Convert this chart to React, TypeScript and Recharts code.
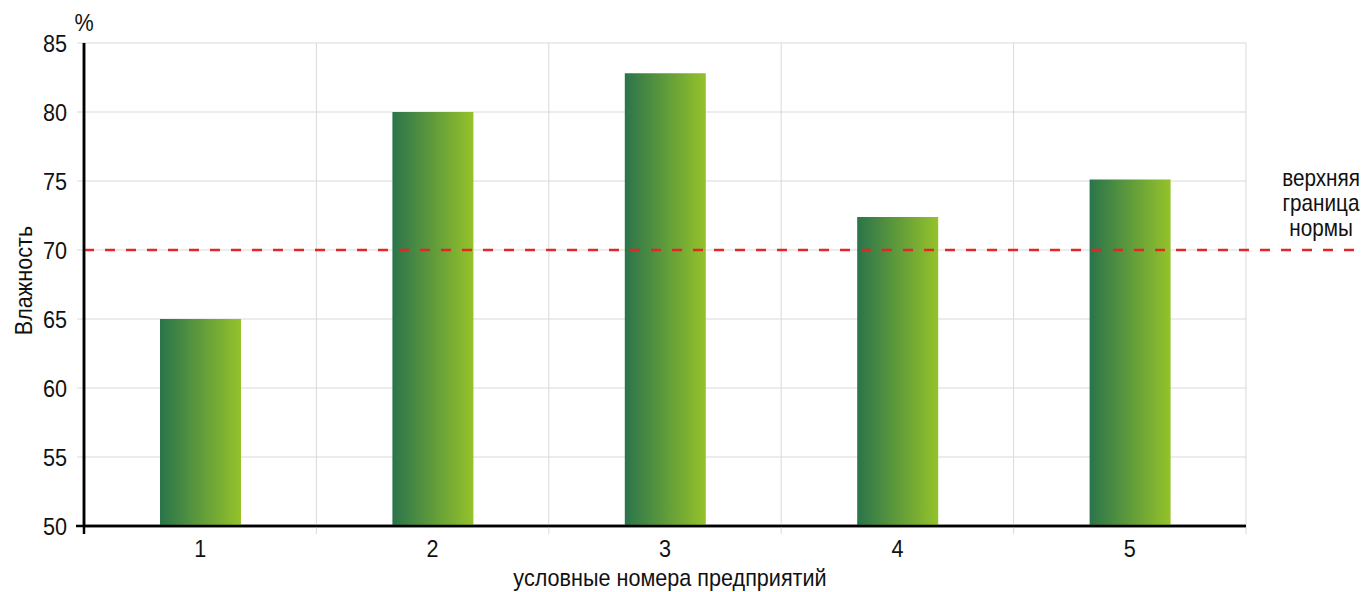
import React from 'react';
import { BarChart, Bar, XAxis, YAxis, CartesianGrid, ReferenceLine } from 'recharts';

// Humidity per enterprise (conventional enterprise numbers)
const enterprises = ['1', '2', '3', '4', '5'];
const humidity = [65, 80, 82.8, 72.4, 75.1];
const humidityTicks = [50, 55, 60, 65, 70, 75, 80, 85];
const normUpper = 70;
const normLabelLines = ['верхняя', 'граница', 'нормы'];

const data = enterprises.map((name, i) => ({ name, humidity: humidity[i] }));

// Layout
const WIDTH = 1364;
const HEIGHT = 592;
const Y_AXIS_W = 84;
const X_AXIS_H = 66;
const MARGIN = { top: 43, right: 118, bottom: 0, left: 0 };
const PLOT_LEFT = MARGIN.left + Y_AXIS_W;
const PLOT_RIGHT = WIDTH - MARGIN.right;
const PLOT_BOTTOM = HEIGHT - MARGIN.bottom - X_AXIS_H;
const FONT = '"Liberation Sans", Arial, Helvetica, sans-serif';
const FONT_SIZE = 24;
const CONDENSE = 0.9;
const GRID = '#d9d9d9';
const INK = '#111';

// Text set in a slightly condensed face: anchored at (x, y), squeezed horizontally.
const Condensed = ({
  x,
  y,
  anchor = 'middle',
  rotate = 0,
  size = FONT_SIZE,
  dy,
  children,
}: any) => (
  <text
    transform={`translate(${x}, ${y}) rotate(${rotate}) scale(${CONDENSE}, 1)`}
    x={0}
    y={0}
    dy={dy}
    textAnchor={anchor}
    fontSize={size}
    fill={INK}
    fontFamily={FONT}
  >
    {children}
  </text>
);

const XTick = (p: any) => (
  <Condensed x={p.x} y={p.y} anchor="middle" dy="0.71em">
    {p.payload.value}
  </Condensed>
);

const YTick = (p: any) => (
  <Condensed x={p.x} y={p.y} anchor="end" dy="0.355em">
    {p.payload.value}
  </Condensed>
);

// Horizontal grid lines poke out left of the value axis; the bottom one is the
// category axis overhang, drawn in black.
const gridHorizontal = (p: any) => {
  const atAxis = Math.abs(p.y1 - PLOT_BOTTOM) < 1;
  return (
    <line
      key={p.key}
      x1={p.x1 - (atAxis ? 8 : 7)}
      y1={p.y1}
      x2={p.x2}
      y2={p.y2}
      stroke={atAxis ? '#000' : GRID}
      strokeWidth={atAxis ? 2.5 : 1}
    />
  );
};

// Vertical lines sit on category boundaries and reach below the axis.
const gridVertical = (p: any) => {
  const atAxis = Math.abs(p.x1 - PLOT_LEFT) < 1;
  return (
    <line
      key={p.key}
      x1={p.x1}
      y1={p.y1}
      x2={p.x2}
      y2={p.y2 + 8}
      stroke={atAxis ? '#000' : GRID}
      strokeWidth={atAxis ? 2.5 : 1}
    />
  );
};

const boundaryCoordinates = () => {
  const n = enterprises.length;
  const step = (PLOT_RIGHT - PLOT_LEFT) / n;
  return Array.from({ length: n + 1 }, (_, i) => PLOT_LEFT + i * step);
};

const YAxisTitle = (props: any) => {
  const { x, y, width, height } = props.viewBox;
  return (
    <g>
      <Condensed x={x + width} y={y - 12}>%</Condensed>
      <Condensed x={x + 32} y={y + height / 2 - 4} rotate={-90}>
        Влажность
      </Condensed>
    </g>
  );
};

const XAxisTitle = (props: any) => {
  const { x, y, width, height } = props.viewBox;
  return (
    <Condensed x={x + width / 2 + 5} y={y + height - 6}>
      условные номера предприятий
    </Condensed>
  );
};

// Dashed norm line runs on past the plot to the edge, with its caption at right.
const NormLine = (p: any) => {
  const cx = WIDTH - 43;
  return (
    <g>
      <line
        x1={p.x1}
        y1={p.y1}
        x2={WIDTH}
        y2={p.y2}
        stroke="#e3262a"
        strokeWidth={2.5}
        strokeDasharray="10 11"
      />
      {normLabelLines.map((t, i) => (
        <Condensed key={t} x={cx} y={p.y1 - 64 + i * 25} size={23}>
          {t}
        </Condensed>
      ))}
    </g>
  );
};

export default function App() {
  return (
    <div
      style={{
        position: 'absolute',
        left: 0,
        top: 0,
        width: WIDTH,
        height: HEIGHT,
        fontFamily: FONT,
        background: '#fff',
      }}
    >
      <BarChart width={WIDTH} height={HEIGHT} data={data} margin={MARGIN} style={{ fontFamily: FONT }}>
        <defs>
          <linearGradient id="barGreen" x1="0" y1="0" x2="1" y2="0">
            <stop offset="0" stopColor="#2a744b" />
            <stop offset="1" stopColor="#95c22a" />
          </linearGradient>
        </defs>
        <CartesianGrid
          horizontal={gridHorizontal}
          vertical={gridVertical}
          verticalCoordinatesGenerator={boundaryCoordinates}
        />
        <XAxis
          dataKey="name"
          height={X_AXIS_H}
          axisLine={{ stroke: '#000', strokeWidth: 2.5 }}
          tickLine={false}
          tickSize={0}
          tickMargin={14}
          tick={<XTick />}
          label={<XAxisTitle />}
        />
        <YAxis
          type="number"
          width={Y_AXIS_W}
          domain={[50, 85]}
          ticks={humidityTicks}
          allowDataOverflow
          axisLine={{ stroke: '#000', strokeWidth: 2.5 }}
          tickLine={false}
          tickSize={0}
          tickMargin={17}
          tick={<YTick />}
          label={<YAxisTitle />}
        />
        <Bar dataKey="humidity" fill="url(#barGreen)" barSize={81} isAnimationActive={false} />
        <ReferenceLine y={normUpper} shape={NormLine} />
      </BarChart>
    </div>
  );
}
